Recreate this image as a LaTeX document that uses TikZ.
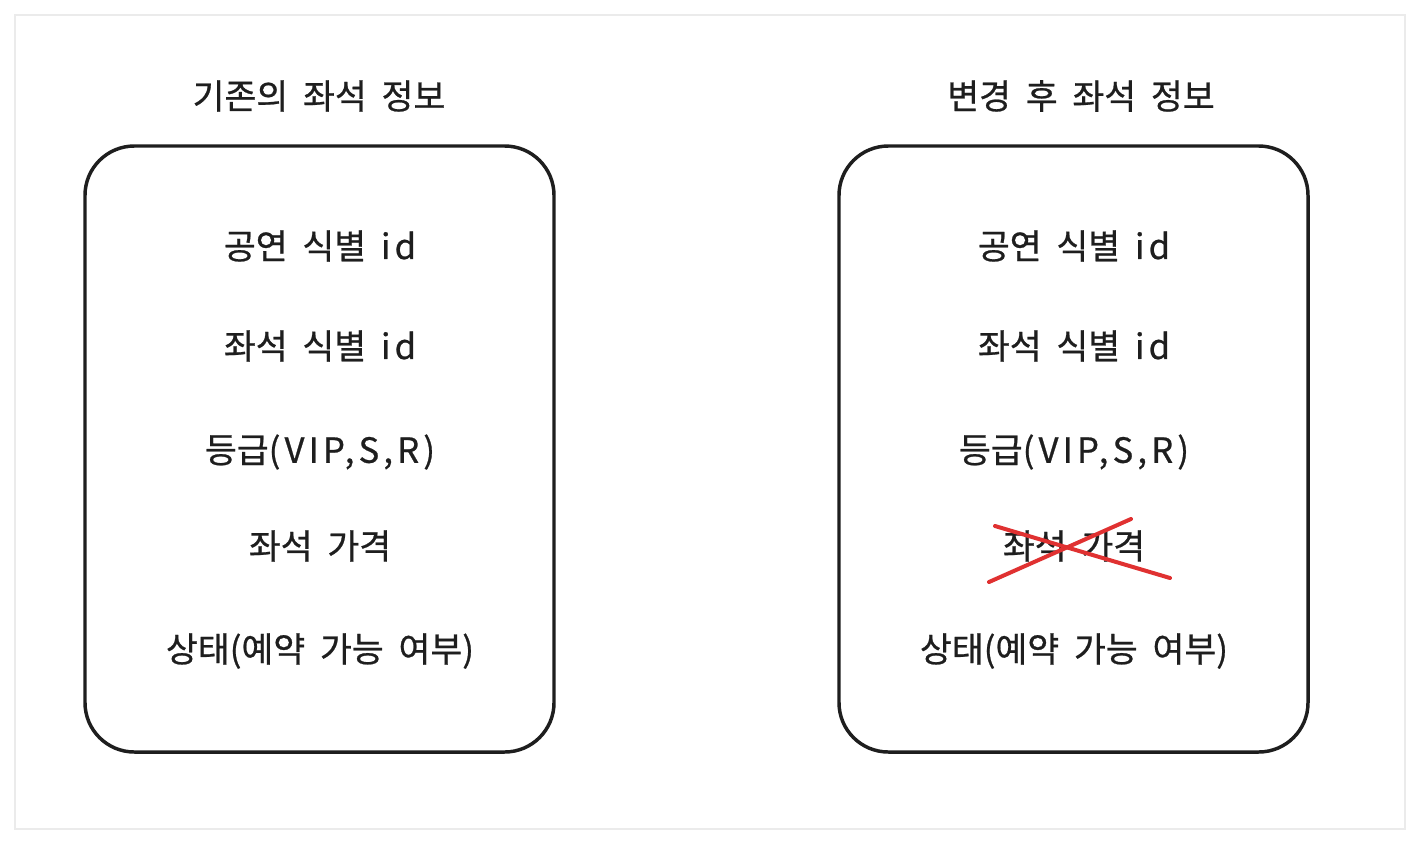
\documentclass[tikz,border=0pt]{standalone}
\usepackage{fontspec}
\setmainfont{Noto Sans CJK KR}[WordSpace=1.9,FakeBold=0.7]
\newfontfamily\latinhand{Noto Sans CJK KR}[LetterSpace=12,FakeBold=0.7]
\definecolor{ink}{HTML}{1E1E1E}
\definecolor{xred}{HTML}{E03131}
\begin{document}
\begin{tikzpicture}[x=0.75pt,y=-0.75pt,
  card/.style={draw=black!8,line width=1.5pt,fill=white},
  box/.style={draw=ink,line width=2.6pt,rounded corners=37pt},
  lbl/.style={font=\fontsize{26}{30}\selectfont,text=ink,inner sep=0pt},
  cross/.style={draw=xred,line width=3pt,line cap=round}]
\useasboundingbox (0,0) rectangle (1420,844);
\fill[white] (0,0) rectangle (1420,844);
\draw[card] (15,15) rectangle (1405,829);
\draw[box] (85,146) rectangle (554,752);
\draw[box] (839,146) rectangle (1308,752);
\node[lbl] (t1) at (319,96) {기존의 좌석 정보};
\node[lbl] (t2) at (1081,96) {변경 후 좌석 정보};
\node[lbl] (a1) at (320,246) {공연 식별 {\latinhand id}};
\node[lbl] (a2) at (320,346) {좌석 식별 {\latinhand id}};
\node[lbl] (a3) at (320,452) {등급{\latinhand(VIP,S,R)}};
\node[lbl] (a4) at (320,546) {좌석 가격};
\node[lbl] (a5) at (320,651) {상태(예약 가능 여부)};
\node[lbl] (b1) at (1074,246) {공연 식별 {\latinhand id}};
\node[lbl] (b2) at (1074,346) {좌석 식별 {\latinhand id}};
\node[lbl] (b3) at (1074,452) {등급{\latinhand(VIP,S,R)}};
\node[lbl] (b4) at (1074,546) {좌석 가격};
\node[lbl] (b5) at (1074,651) {상태(예약 가능 여부)};
\coordinate (x1) at (995,526);
\coordinate (x2) at (1170,578);
\coordinate (x3) at (989,582);
\coordinate (x4) at (1131,519);
\draw[cross] (x1) -- (x2);
\draw[cross] (x3) -- (x4);
\end{tikzpicture}
\end{document}
